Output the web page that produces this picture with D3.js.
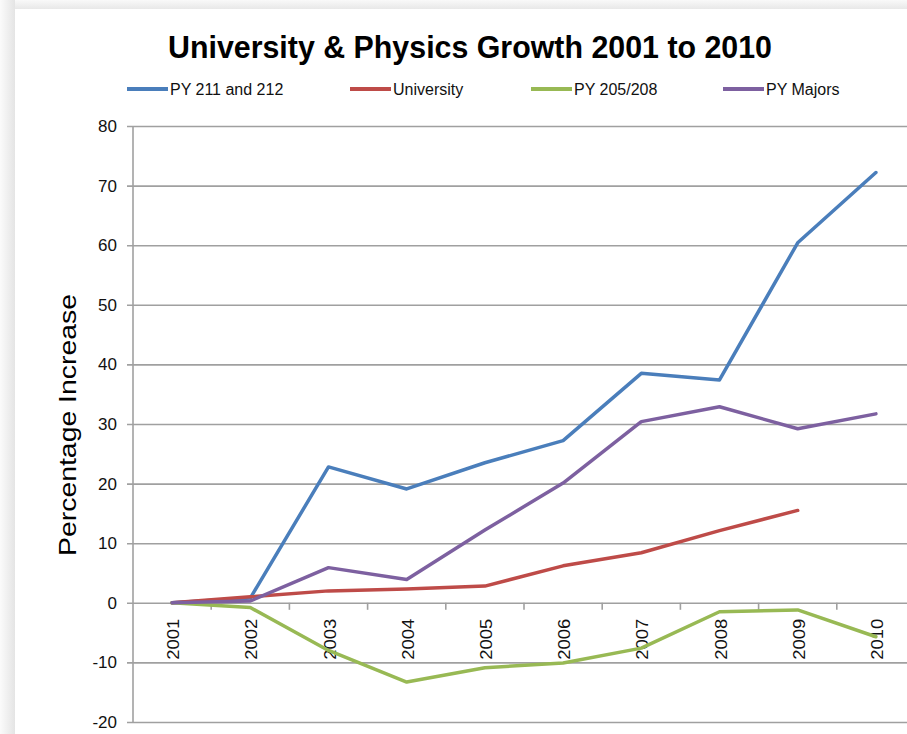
<!DOCTYPE html>
<html>
<head>
<meta charset="utf-8">
<script src="https://cdn.jsdelivr.net/npm/d3@7"></script>
<style>
  body { margin: 0; background: #fff; }
  svg { display: block; }
</style>
</head>
<body>
<div id="chart"></div>
<script>
var years = ["2001", "2002", "2003", "2004", "2005", "2006", "2007", "2008", "2009", "2010"];
var yTicks = [-20, -10, 0, 10, 20, 30, 40, 50, 60, 70, 80];

var seriesNames = ["PY 211 and 212", "University", "PY 205/208", "PY Majors"];
var seriesColors = ["#4a7ebb", "#be4b48", "#98b954", "#7d60a0"];

var py211 = [0, 0.8, 22.8, 19.1, 23.5, 27.2, 38.5, 37.4, 60.4, 72.2];
var university = [0, 1.0, 2.0, 2.3, 2.8, 6.2, 8.4, 12.1, 15.5, null];
var py205 = [0, -0.8, -8.0, -13.3, -10.9, -10.1, -7.6, -1.5, -1.2, -5.7];
var pyMajors = [0, 0.3, 5.9, 3.9, 12.2, 20.1, 30.4, 32.9, 29.2, 31.7];

var seriesValues = [py211, university, py205, pyMajors];

var svgWidth = 907;
var svgHeight = 734;

var plot = { left: 133, top: 126, bottom: 722, step: 78.2 };

var svg = d3.select("#chart")
  .append("svg")
  .attr("width", svgWidth)
  .attr("height", svgHeight);

// screenshot shadow round the chart
var defs = svg.append("defs");
var gl = defs.append("linearGradient").attr("id", "shadeL").attr("x1", 0).attr("x2", 1).attr("y1", 0).attr("y2", 0);
gl.append("stop").attr("offset", "0%").attr("stop-color", "#fbfbfb");
gl.append("stop").attr("offset", "100%").attr("stop-color", "#e4e4e4");
var gt = defs.append("linearGradient").attr("id", "shadeT").attr("x1", 0).attr("x2", 0).attr("y1", 0).attr("y2", 1);
gt.append("stop").attr("offset", "0%").attr("stop-color", "#f9f9f9");
gt.append("stop").attr("offset", "100%").attr("stop-color", "#e8e8e8");

svg.append("rect").attr("x", 0).attr("y", 0).attr("width", svgWidth).attr("height", 9).attr("fill", "url(#shadeT)");
svg.append("rect").attr("x", 0).attr("y", 0).attr("width", 15).attr("height", svgHeight).attr("fill", "url(#shadeL)");
svg.append("rect").attr("x", 15).attr("y", 9).attr("width", svgWidth - 15).attr("height", svgHeight - 9).attr("fill", "#fff");

var x = d3.scalePoint()
  .domain(years)
  .range([plot.left, plot.left + plot.step * years.length])
  .padding(0.5);

var y = d3.scaleLinear()
  .domain([-20, 80])
  .range([plot.bottom, plot.top]);

// gridlines + y axis
var yAxis = d3.axisLeft(y)
  .tickValues(yTicks)
  .tickSize(-(svgWidth - plot.left))
  .tickPadding(16)
  .tickFormat(d => String(d));

var yG = svg.append("g")
  .attr("transform", `translate(${plot.left},0)`)
  .call(yAxis);
yG.select(".domain").remove();
yG.selectAll(".tick line")
  .attr("x1", -6)
  .attr("stroke", "#a0a0a0")
  .attr("stroke-width", 1.6);
yG.selectAll(".tick text")
  .attr("font-family", "Liberation Sans, Arial, sans-serif")
  .attr("font-size", "17px")
  .attr("fill", "#111");

svg.append("line")
  .attr("x1", plot.left).attr("x2", plot.left)
  .attr("y1", plot.top).attr("y2", plot.bottom)
  .attr("stroke", "#a0a0a0")
  .attr("stroke-width", 1.6);

// category ticks on the zero line
var catEdges = d3.range(years.length + 1).map(i => plot.left + i * plot.step);
svg.append("g").selectAll("line")
  .data(catEdges.slice(1))
  .enter()
  .append("line")
  .attr("x1", d => d).attr("x2", d => d)
  .attr("y1", y(0)).attr("y2", y(0) + 7)
  .attr("stroke", "#a0a0a0")
  .attr("stroke-width", 1.6);

// year labels, rotated
svg.append("g").selectAll("text")
  .data(years)
  .enter()
  .append("text")
  .attr("transform", d => `translate(${x(d) + 7}, ${y(0) + 16}) rotate(-90)`)
  .attr("text-anchor", "end")
  .attr("font-family", "Liberation Sans, Arial, sans-serif")
  .attr("font-size", "17px")
  .attr("textLength", 41)
  .attr("lengthAdjust", "spacingAndGlyphs")
  .attr("fill", "#111")
  .text(d => d);

// lines
var line = d3.line()
  .defined(d => d != null)
  .x((d, i) => x(years[i]))
  .y(d => y(d));

svg.append("g").selectAll("path")
  .data(seriesValues)
  .enter()
  .append("path")
  .attr("d", d => line(d))
  .attr("fill", "none")
  .attr("stroke", (d, i) => seriesColors[i])
  .attr("stroke-width", 3.5)
  .attr("stroke-linejoin", "round")
  .attr("stroke-linecap", "round");

// title
svg.append("text")
  .attr("x", 470)
  .attr("y", 58)
  .attr("text-anchor", "middle")
  .attr("font-family", "Liberation Sans Narrow, Arial Narrow, sans-serif")
  .attr("font-weight", "bold")
  .attr("font-size", "32px")
  .attr("textLength", 604)
  .attr("lengthAdjust", "spacingAndGlyphs")
  .attr("fill", "#000")
  .text("University & Physics Growth 2001 to 2010");

// legend
var legendX = [127, 350, 531, 723];
var legend = svg.append("g").selectAll("g")
  .data(seriesNames)
  .enter()
  .append("g")
  .attr("transform", (d, i) => `translate(${legendX[i]}, 89)`);

legend.append("line")
  .attr("x1", 0).attr("x2", 41)
  .attr("y1", 0).attr("y2", 0)
  .attr("stroke", (d, i) => seriesColors[i])
  .attr("stroke-width", 4);

legend.append("text")
  .attr("x", 43)
  .attr("y", 6)
  .attr("font-family", "Liberation Sans, Arial, sans-serif")
  .attr("font-size", "16px")
  .attr("fill", "#111")
  .text(d => d);

// y axis title
svg.append("text")
  .attr("transform", "translate(76, 425) rotate(-90)")
  .attr("text-anchor", "middle")
  .attr("font-family", "Liberation Sans, Arial, sans-serif")
  .attr("font-size", "23px")
  .attr("textLength", 262)
  .attr("lengthAdjust", "spacingAndGlyphs")
  .attr("fill", "#000")
  .text("Percentage Increase");
</script>
</body>
</html>
